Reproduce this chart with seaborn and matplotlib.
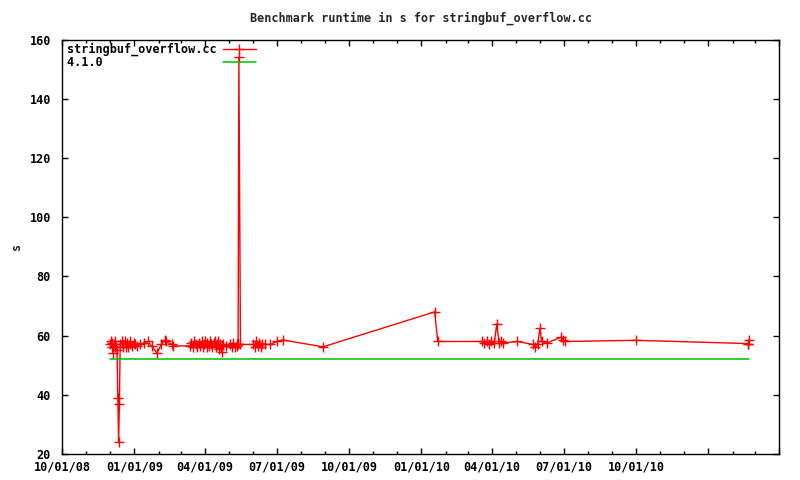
import matplotlib
matplotlib.use("Agg")
import matplotlib.pyplot as plt
import matplotlib.dates as mdates
from matplotlib.ticker import FuncFormatter, MultipleLocator
import pandas as pd
import seaborn as sns

# ---- data ----
run_dates = [
    "2008-12-01", "2008-12-02", "2008-12-03", "2008-12-04", "2008-12-05", "2008-12-06",
    "2008-12-07", "2008-12-08", "2008-12-10", "2008-12-11", "2008-12-12", "2008-12-13",
    "2008-12-14", "2008-12-16", "2008-12-17", "2008-12-18", "2008-12-20", "2008-12-21",
    "2008-12-23", "2008-12-24", "2008-12-26", "2008-12-27", "2008-12-29", "2008-12-31",
    "2009-01-02", "2009-01-04", "2009-01-08", "2009-01-13", "2009-01-18", "2009-01-23",
    "2009-01-30", "2009-02-04", "2009-02-09", "2009-02-10", "2009-02-18", "2009-02-19",
    "2009-03-13", "2009-03-14", "2009-03-16", "2009-03-18", "2009-03-20", "2009-03-22",
    "2009-03-24", "2009-03-25", "2009-03-28", "2009-03-29", "2009-03-31", "2009-04-01",
    "2009-04-03", "2009-04-04", "2009-04-06", "2009-04-07", "2009-04-09", "2009-04-10",
    "2009-04-12", "2009-04-13", "2009-04-15", "2009-04-16", "2009-04-18", "2009-04-19",
    "2009-04-20", "2009-04-22", "2009-04-23", "2009-04-24", "2009-04-28", "2009-05-03",
    "2009-05-05", "2009-05-07", "2009-05-09", "2009-05-11", "2009-05-12", "2009-05-13",
    "2009-05-14", "2009-05-16", "2009-06-01", "2009-06-03", "2009-06-05", "2009-06-07",
    "2009-06-09", "2009-06-11", "2009-06-13", "2009-06-16", "2009-06-23", "2009-07-01",
    "2009-07-09", "2009-08-29", "2010-01-18", "2010-01-22", "2010-03-19", "2010-03-22",
    "2010-03-25", "2010-03-28", "2010-03-31", "2010-04-04", "2010-04-07", "2010-04-10",
    "2010-04-12", "2010-04-15", "2010-05-03", "2010-05-23", "2010-05-26", "2010-05-29",
    "2010-06-01", "2010-06-03", "2010-06-10", "2010-06-28", "2010-06-30", "2010-07-03",
    "2010-10-01", "2011-02-20", "2011-02-21", "2011-02-22",
]
run_seconds = [
    57, 58, 56, 57.5, 54, 57,
    56, 58, 55, 39, 24, 37,
    57, 58, 56, 57, 58, 56,
    57.5, 56, 58, 57, 56.5, 57.5,
    57, 56.5, 57, 57.5, 58, 56.5,
    54, 57, 58.5, 58, 57, 56.5,
    56.5, 57.5, 56, 58, 57, 56,
    57.5, 56.5, 58, 56, 57, 58,
    56, 57.5, 56.5, 58, 57, 56,
    57.5, 58, 56, 57, 58, 55.5,
    57, 54.5, 56.5, 57, 56.5, 57,
    56, 57.5, 56, 57, 56.5, 57,
    154, 57, 57, 56, 58, 56.5,
    57.5, 56, 57, 57, 57, 58,
    58.5, 56.2, 68, 58, 58, 57.5,
    58, 57, 58, 57.5, 64, 57.5,
    58, 57.5, 58, 57, 56, 57,
    62.5, 58, 57.5, 59.5, 58.5, 58,
    58.4, 57.3, 57, 58.5,
]
baseline_dates = ["2008-12-01", "2011-02-22"]
baseline_seconds = [52, 52]

series_name = "stringbuf_overflow.cc"
baseline_name = "4.1.0"
title = "Benchmark runtime in s for stringbuf_overflow.cc"
x_start, x_end = "2008-10-01", "2011-04-01"
last_labeled_tick = "2010-10-01"

run_df = pd.DataFrame({"date": pd.to_datetime(run_dates), "s": run_seconds})
base_df = pd.DataFrame({"date": pd.to_datetime(baseline_dates), "s": baseline_seconds})

RED = "#ff0000"
GREEN = "#00c000"

# ---- style ----
sns.set_style("ticks")
plt.rcParams["font.family"] = ["DejaVu Sans Mono"]
plt.rcParams["font.weight"] = "bold"
plt.rcParams["font.size"] = 8.5

fig = plt.figure(figsize=(8, 4.8), dpi=100)
ax = fig.add_axes([62 / 800, 26 / 480, 717 / 800, 414.5 / 480])

# pad the shorter label so the (right-aligned) legend column reads left-aligned
width = max(len(series_name), len(baseline_name))
sns.lineplot(data=run_df, x="date", y="s", ax=ax, color=RED, linewidth=1,
             marker="+", markersize=6.5, markeredgewidth=1,
             markeredgecolor=RED, markerfacecolor=RED,
             label=series_name.ljust(width), estimator=None, sort=True)
sns.lineplot(data=base_df, x="date", y="s", ax=ax, color=GREEN, linewidth=1.1,
             label=baseline_name.ljust(width), estimator=None)

ax.set_xlim(pd.Timestamp(x_start), pd.Timestamp(x_end))
ax.set_ylim(20, 160)
ax.yaxis.set_major_locator(MultipleLocator(20))

ax.xaxis.set_major_locator(mdates.MonthLocator(bymonth=[1, 4, 7, 10]))
ax.xaxis.set_minor_locator(mdates.MonthLocator())
cut = mdates.date2num(pd.Timestamp(last_labeled_tick))


def fmt(v, pos):
    if v > cut + 0.5:
        return ""
    return mdates.num2date(v).strftime("%m/%d/%y")


ax.xaxis.set_major_formatter(FuncFormatter(fmt))

ax.tick_params(axis="both", which="both", direction="in", top=True, right=True,
               colors="black", labelsize=8.5)
ax.tick_params(axis="both", which="major", length=4, width=1)
ax.tick_params(axis="x", which="minor", length=2.5, width=1)
ax.tick_params(axis="x", which="major", pad=5)
ax.tick_params(axis="y", which="major", pad=8)
for sp in ax.spines.values():
    sp.set_visible(True)
    sp.set_color("black")
    sp.set_linewidth(1)

ax.set_xlabel("")
ax.set_ylabel("s", fontsize=8.5, fontweight="bold", labelpad=5)
ax.set_title(title, fontsize=8.5, fontweight="bold", pad=13)

leg = ax.legend(loc="upper left", bbox_to_anchor=(0.004, 0.9975), frameon=False,
                markerfirst=False, handlelength=2.8, handletextpad=0.5,
                labelspacing=-0.05, borderaxespad=0.15, borderpad=0.05,
                fontsize=8.5)
for t in leg.get_texts():
    t.set_color("black")

fig.savefig("out.png", dpi=100)
